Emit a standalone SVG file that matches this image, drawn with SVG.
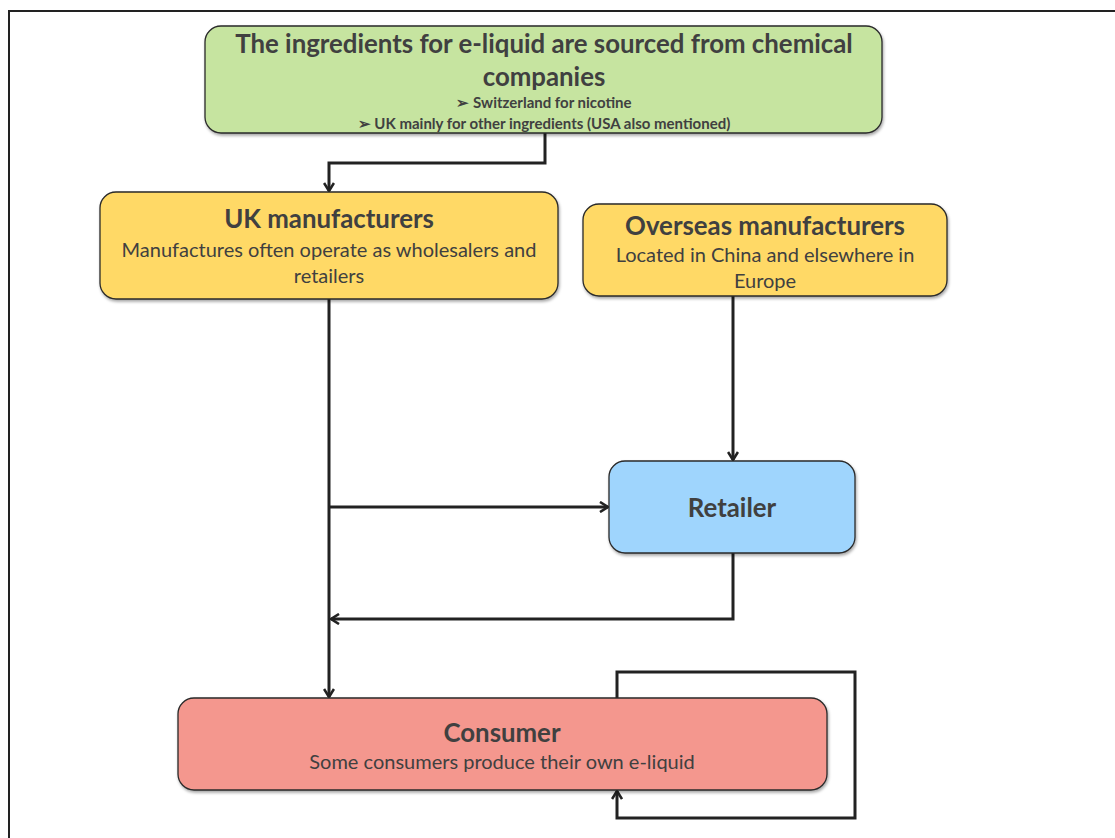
<svg xmlns="http://www.w3.org/2000/svg" width="1115" height="838" viewBox="0 0 1115 838">
<style>
.box{stroke:#2a2a2a;stroke-width:1.3;filter:url(#sh)}
.t{font-family:Lato,"Liberation Sans",sans-serif;fill:#404040;text-anchor:middle}
.h{font-weight:bold;font-size:25.8px}
.s{font-size:20px}
.b{font-weight:bold;font-size:15px}
.c{fill:none;stroke:#222;stroke-width:3}
</style>
<defs>
<filter id="sh" x="-5%" y="-5%" width="110%" height="120%"><feDropShadow dx="1" dy="2" stdDeviation="1.5" flood-color="#000" flood-opacity="0.35"/></filter>
<marker id="ar" viewBox="0 0 12 12" refX="10" refY="6" markerWidth="12" markerHeight="12" markerUnits="userSpaceOnUse" orient="auto"><path d="M2,1 L10,6 L2,11" fill="none" stroke="#222" stroke-width="2.6"/></marker>
</defs>
<rect x="9" y="11" width="1120" height="840" fill="#fff" stroke="#222" stroke-width="2"/>
<g id="connectors">
<path class="c" d="M545,133 V163 H329 V191" marker-end="url(#ar)"/>
<path class="c" d="M329,299 V697" marker-end="url(#ar)"/>
<path class="c" d="M329,507 H608" marker-end="url(#ar)"/>
<path class="c" d="M733,296 V460" marker-end="url(#ar)"/>
<path class="c" d="M733,553 V619 H331" marker-end="url(#ar)"/>
<path class="c" d="M617,698 V672 H855 V818 H617 V791" marker-end="url(#ar)"/>
</g>
<g id="sources">
<rect class="box" x="205" y="26" width="677" height="107" rx="16" fill="#c6e4a0"/>
<text class="t h" x="544" y="53">The ingredients for e-liquid are sourced from chemical</text>
<text class="t h" x="544" y="86">companies</text>
<text class="t b" x="544" y="108">➢   Switzerland for nicotine</text>
<text class="t b" x="544" y="129">➢   UK mainly for other ingredients (USA also mentioned)</text>
</g>
<g id="uk">
<rect class="box" x="100" y="192" width="458" height="107" rx="16" fill="#ffd966"/>
<text class="t h" x="329" y="228">UK manufacturers</text>
<text class="t s" x="329" y="257">Manufactures often operate as wholesalers and</text>
<text class="t s" x="329" y="283">retailers</text>
</g>
<g id="overseas">
<rect class="box" x="583" y="204" width="364" height="92" rx="16" fill="#ffd966"/>
<text class="t h" x="765" y="235">Overseas manufacturers</text>
<text class="t s" x="765" y="262">Located in China and elsewhere in</text>
<text class="t s" x="765" y="288">Europe</text>
</g>
<g id="retailer">
<rect class="box" x="609" y="461" width="246" height="92" rx="16" fill="#9fd5fd"/>
<text class="t h" x="732" y="517">Retailer</text>
</g>
<g id="consumer">
<rect class="box" x="178" y="698" width="649" height="92" rx="16" fill="#f4978e"/>
<text class="t h" x="502" y="742">Consumer</text>
<text class="t s" x="502" y="769">Some consumers produce their own e-liquid</text>
</g>
</svg>
